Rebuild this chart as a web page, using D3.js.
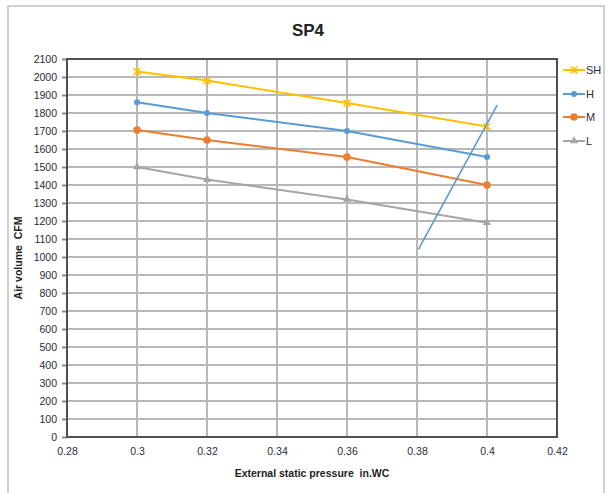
<!DOCTYPE html>
<html><head><meta charset="utf-8">
<script src="https://cdn.jsdelivr.net/npm/d3@7/dist/d3.min.js"></script>
<style>
body{margin:0;background:#fff;}
text{font-family:"Liberation Sans Narrow","Liberation Sans",Arial,sans-serif;}
</style></head>
<body><svg id="c" width="608" height="493"></svg>
<script>
const pressures = [0.3, 0.32, 0.36, 0.4];
const seriesNames = ["SH", "H", "M", "L"];
const shValues = [2030, 1980, 1855, 1725];
const hValues = [1860, 1800, 1700, 1555];
const mValues = [1705, 1650, 1555, 1400];
const lValues = [1500, 1430, 1320, 1190];
const seriesColors = ["#FFC000", "#5B9BD5", "#ED7D31", "#A5A5A5"];
const markerTypes = ["star", "circle", "bigcircle", "triangle"];
const extraLineX = [0.3804, 0.4029];
const extraLineY = [1043, 1844];
const xTicks = [0.28, 0.3, 0.32, 0.34, 0.36, 0.38, 0.4, 0.42];
const yTicks = d3.range(0, 2101, 100);

(function () {
const allValues = [shValues, hValues, mValues, lValues];
const svg = d3.select("#c");
const pL = 67, pR = 557, pT = 59, pB = 437;
const x = d3.scaleLinear().domain([0.28, 0.42]).range([pL, pR]);
const y = d3.scaleLinear().domain([0, 2100]).range([pB, pT]);

// outer frame
svg.append("rect").attr("x", 8).attr("y", 6).attr("width", 596).attr("height", 500)
  .attr("fill", "#fff").attr("stroke", "#d0d0d0").attr("stroke-width", 2);

// title
svg.append("text").attr("x", 308).attr("y", 36).attr("text-anchor", "middle")
  .attr("font-size", 17).attr("font-weight", "bold").attr("fill", "#222").text("SP4");

// grid
const g = svg.append("g");
g.selectAll(".hg").data(yTicks).join("line")
  .attr("x1", pL).attr("x2", pR).attr("y1", d => y(d)).attr("y2", d => y(d))
  .attr("stroke", "#b8b8b8").attr("stroke-width", 2);
g.selectAll(".vg").data(xTicks).join("line")
  .attr("y1", pT).attr("y2", pB).attr("x1", d => x(d)).attr("x2", d => x(d))
  .attr("stroke", "#b8b8b8").attr("stroke-width", 2);

// axes
const yAxis = d3.axisLeft(y).tickValues(yTicks).tickSize(5).tickPadding(5).tickFormat(d3.format("d"));
const xAxis = d3.axisBottom(x).tickValues(xTicks).tickSize(0).tickPadding(11).tickFormat(d => String(+d.toFixed(2)));
const ya = svg.append("g").attr("transform", `translate(${pL},0)`).call(yAxis);
ya.select(".domain").remove();
ya.selectAll(".tick line").attr("stroke", "#8a8a8a").attr("stroke-width", 2);
ya.selectAll("text").attr("font-size", 10.5).attr("fill", "#2a2a3a");
const xa = svg.append("g").attr("transform", `translate(0,${pB})`).call(xAxis);
xa.select(".domain").remove();
xa.selectAll("text").attr("font-size", 10.5).attr("fill", "#2a2a3a");

// plot border
svg.append("rect").attr("x", pL).attr("y", pT).attr("width", pR - pL).attr("height", pB - pT)
  .attr("fill", "none").attr("stroke", "#505050").attr("stroke-width", 2);

// series
const line = d3.line().x(d => x(d[0])).y(d => y(d[1]));
function marker(sel, type, color, cx, cy) {
  if (type === "star") {
    const s = 3.5;
    const p = sel.append("g").attr("stroke", color).attr("stroke-width", 1.5);
    p.append("line").attr("x1", cx - s).attr("x2", cx + s).attr("y1", cy - s).attr("y2", cy + s);
    p.append("line").attr("x1", cx - s).attr("x2", cx + s).attr("y1", cy + s).attr("y2", cy - s);
    p.append("line").attr("x1", cx).attr("x2", cx).attr("y1", cy - s).attr("y2", cy + s);
  } else if (type === "circle") {
    sel.append("circle").attr("cx", cx).attr("cy", cy).attr("r", 3).attr("fill", color);
  } else if (type === "bigcircle") {
    sel.append("circle").attr("cx", cx).attr("cy", cy).attr("r", 3.8).attr("fill", color);
  } else {
    sel.append("path").attr("d", d3.symbol(d3.symbolTriangle, 28)()).attr("transform", `translate(${cx},${cy})`).attr("fill", color);
  }
}
allValues.forEach((vals, i) => {
  const pts = pressures.map((p, j) => [p, vals[j]]);
  const sg = svg.append("g");
  sg.append("path").attr("d", line(pts)).attr("fill", "none").attr("stroke", seriesColors[i]).attr("stroke-width", 2);
  pts.forEach(pt => marker(sg, markerTypes[i], seriesColors[i], x(pt[0]), y(pt[1])));
});

// extra blue line
svg.append("path").attr("d", line(extraLineX.map((v, i) => [v, extraLineY[i]])))
  .attr("fill", "none").attr("stroke", "#5B9BD5").attr("stroke-width", 1.6);

// axis titles
svg.append("text").attr("x", 312).attr("y", 477).attr("text-anchor", "middle")
  .attr("font-size", 10.5).attr("font-weight", "bold").attr("fill", "#222").text("External static pressure\u00a0\u00a0in.WC");
svg.append("text").attr("transform", "translate(22,258) rotate(-90)").attr("text-anchor", "middle")
  .attr("font-size", 10.5).attr("font-weight", "bold").attr("fill", "#222").text("Air volume\u00a0\u00a0CFM");

// legend
const legY = [70, 94, 117, 141];
seriesNames.forEach((n, i) => {
  const lg = svg.append("g");
  lg.append("line").attr("x1", 563).attr("x2", 585).attr("y1", legY[i]).attr("y2", legY[i])
    .attr("stroke", seriesColors[i]).attr("stroke-width", 2);
  marker(lg, markerTypes[i], seriesColors[i], 574, legY[i]);
  lg.append("text").attr("x", 586).attr("y", legY[i] + 4).attr("font-size", 11).attr("fill", "#2a2a3a").text(n);
});
})();
</script></body></html>
